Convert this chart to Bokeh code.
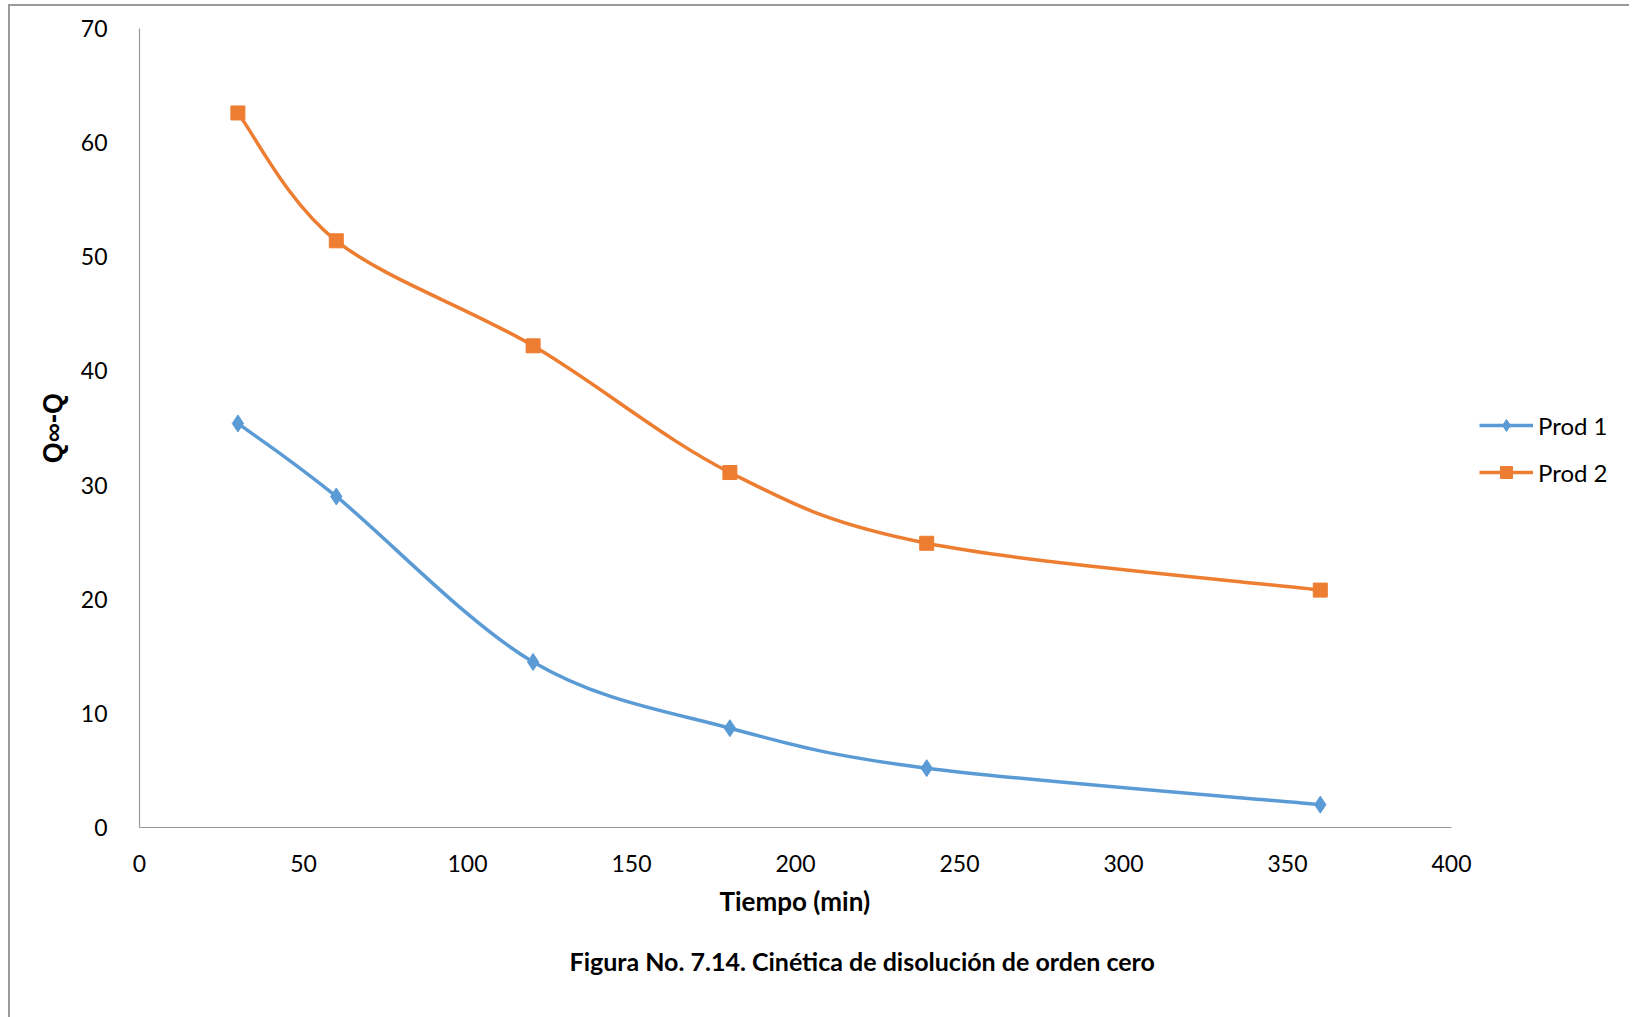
from bokeh.plotting import figure
from bokeh.models import (Range1d, FixedTicker, Legend, LegendItem, Title,
                          ColumnDataSource)
from bokeh.embed import file_html
from bokeh.resources import INLINE

# Dissolution data: time (min) vs Q∞-Q
tiempo = [30, 60, 120, 180, 240, 360]
prod1 = [35.4, 29.0, 14.5, 8.7, 5.2, 2.0]
prod2 = [62.6, 51.4, 42.2, 31.1, 24.9, 20.8]
series_names = ["Prod 1", "Prod 2"]
x_ticks = [0, 50, 100, 150, 200, 250, 300, 350, 400]
y_ticks = [0, 10, 20, 30, 40, 50, 60, 70]
x_lim = (0, 400)
y_lim = (0, 70)

BLUE = "#5B9BD5"
ORANGE = "#ED7D31"
AXIS_GRAY = "#9a9a9a"
FONT = "Lato"

# outer box offset (top / left border lines of the chart box)
OFF_X, OFF_Y = 10, 6
AXIS_PX = 1312          # pixel length of the 0-400 time axis
FRAME_W = 1490          # plot area keeps going right to hold the legend
FRAME_H = 799


def smooth_segments(xs, ys):
    """Cubic Bezier segments through the points (Catmull-Rom style control points)."""
    n = len(xs)
    seg = dict(x0=[], y0=[], x1=[], y1=[], cx0=[], cy0=[], cx1=[], cy1=[])
    for i in range(n - 1):
        xp, yp = (xs[i - 1], ys[i - 1]) if i > 0 else (xs[i], ys[i])
        xn, yn = (xs[i + 2], ys[i + 2]) if i + 2 < n else (xs[i + 1], ys[i + 1])
        seg["x0"].append(xs[i]); seg["y0"].append(ys[i])
        seg["x1"].append(xs[i + 1]); seg["y1"].append(ys[i + 1])
        seg["cx0"].append(xs[i] + (xs[i + 1] - xp) / 6.0)
        seg["cy0"].append(ys[i] + (ys[i + 1] - yp) / 6.0)
        seg["cx1"].append(xs[i + 1] - (xn - xs[i]) / 6.0)
        seg["cy1"].append(ys[i + 1] - (yn - ys[i]) / 6.0)
    return ColumnDataSource(seg)


x_end = x_lim[0] + (x_lim[1] - x_lim[0]) * FRAME_W / AXIS_PX
p = figure(frame_width=FRAME_W, frame_height=FRAME_H, output_backend="svg",
           toolbar_location=None,
           x_range=Range1d(x_lim[0], x_end), y_range=Range1d(*y_lim),
           min_border_left=139 - OFF_X, min_border_right=0,
           min_border_top=28 - OFF_Y, min_border_bottom=190)
p.background_fill_color = "white"
p.border_fill_color = "white"
p.outline_line_color = None
p.xgrid.visible = False
p.ygrid.visible = False
p.margin = (OFF_Y - 2, 0, 0, OFF_X - 2)
p.styles = {"border-top": f"2px solid {AXIS_GRAY}",
            "border-left": f"2px solid {AXIS_GRAY}"}

# axes
for ax in (p.xaxis[0], p.yaxis[0]):
    ax.axis_line_color = AXIS_GRAY
    ax.axis_line_width = 1.2
    ax.major_tick_line_color = None
    ax.minor_tick_line_color = None
    ax.major_label_text_font = FONT
    ax.major_label_text_font_size = "23px"
    ax.major_label_text_color = "black"
    ax.axis_label_text_color = "black"
    ax.axis_label_text_font_style = "bold"

p.xaxis.bounds = x_lim
p.xaxis.ticker = FixedTicker(ticks=x_ticks)
p.yaxis.ticker = FixedTicker(ticks=y_ticks)
p.xaxis.major_label_standoff = 21
p.yaxis.major_label_standoff = 26

p.yaxis.axis_label = "Q∞-Q"
p.yaxis.axis_label_text_font = "Liberation Sans"
p.yaxis.axis_label_text_font_size = "27px"
p.yaxis.axis_label_standoff = 10

# smoothed series with markers
src1 = smooth_segments(tiempo, prod1)
src2 = smooth_segments(tiempo, prod2)
c1 = p.bezier(x0="x0", y0="y0", x1="x1", y1="y1", cx0="cx0", cy0="cy0",
              cx1="cx1", cy1="cy1", source=src1, line_color=BLUE, line_width=3.5)
c2 = p.bezier(x0="x0", y0="y0", x1="x1", y1="y1", cx0="cx0", cy0="cy0",
              cx1="cx1", cy1="cy1", source=src2, line_color=ORANGE, line_width=3.5)
m1 = p.scatter(tiempo, prod1, marker="diamond", size=17, color=BLUE)
m2 = p.scatter(tiempo, prod2, marker="square", size=14, color=ORANGE)

legend = Legend(items=[LegendItem(label=series_names[0], renderers=[c1, m1]),
                       LegendItem(label=series_names[1], renderers=[c2, m2])],
                location=(AXIS_PX + 28, 340), orientation="vertical",
                glyph_width=54, glyph_height=30, label_height=30,
                label_standoff=5, spacing=17, padding=0, margin=0,
                border_line_color=None, background_fill_alpha=0,
                label_text_font=FONT, label_text_font_size="24px",
                label_text_color="black")
p.add_layout(legend)

# x-axis title, centred under the 0-400 span of the axis
x_title = Title(text="Tiempo (min)", align="left", offset=580,
                text_font=FONT, text_font_size="26px", text_font_style="bold",
                text_color="black", standoff=16)
p.add_layout(x_title, "below")

# figure caption under the chart
caption = Title(text="Figura  No. 7.14. Cinética de disolución de orden cero",
                align="left", offset=430, text_font=FONT, text_font_size="25px",
                text_font_style="bold", text_color="black", standoff=38)
p.add_layout(caption, "below")

open("out.html", "w").write(file_html(p, INLINE))
